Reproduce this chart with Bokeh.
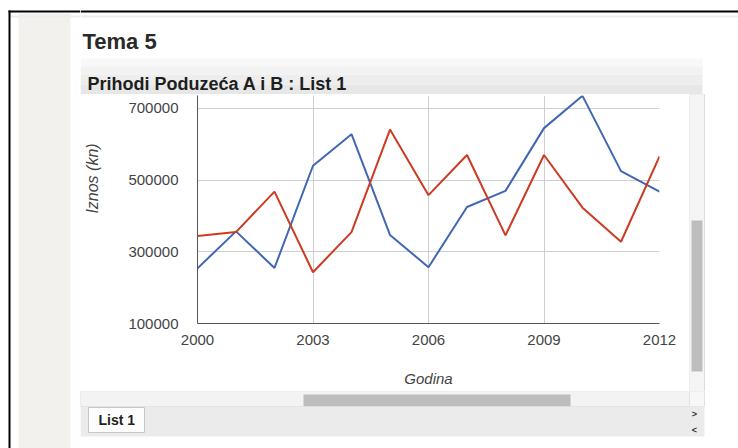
import math
from bokeh.plotting import figure
from bokeh.layouts import column, row
from bokeh.models import Range1d, FixedTicker, BasicTickFormatter
from bokeh.core.properties import value
from bokeh.embed import file_html
from bokeh.resources import INLINE

# ---- data ----
years = [2000, 2001, 2002, 2003, 2004, 2005, 2006, 2007, 2008, 2009, 2010, 2011, 2012]
series_blue = [254000, 357000, 255000, 540000, 628000, 347000, 257000, 425000, 470000, 645000, 735000, 525000, 468000]
series_red = [344000, 355000, 468000, 243000, 355000, 641000, 458000, 570000, 346000, 570000, 423000, 328000, 566000]
x_ticks = [2000, 2003, 2006, 2009, 2012]
y_ticks = [100000, 300000, 500000, 700000]
page_title = "Tema 5"
chart_title = "Prihodi Poduzeća A i B : List 1"
x_label = "Godina"
y_label = "Iznos (kn)"
sheet_tab = "List 1"

FONT = "Liberation Sans"


def tidy(f):
    try:
        f.frame_align = False
    except Exception:
        pass
    try:
        f.title = None
    except Exception:
        f.title.visible = False


def panel(x0, x1, y0, y1):
    """A decoration panel whose data units are page pixels (y measured downward, stored negated)."""
    f = figure(width=x1 - x0, height=y1 - y0, output_backend="svg", toolbar_location=None,
               x_range=Range1d(x0, x1), y_range=Range1d(-y1, -y0),
               x_axis_type=None, y_axis_type=None)
    f.min_border_left = 0
    f.min_border_right = 0
    f.min_border_top = 0
    f.min_border_bottom = 0
    f.outline_line_color = None
    f.background_fill_color = "white"
    f.border_fill_color = "white"
    f.grid.visible = False
    tidy(f)
    return f


def box(f, l, t, r, b, color, line=None):
    f.quad(left=l, right=r, top=-t, bottom=-b, fill_color=color,
           line_color=line if line else None, line_width=1)


def txt(f, x, y, s, size, style="normal", color="#222222", angle=0.0, align="left"):
    # y is the vertical middle of the capital letters
    f.text(x=[x], y=[-y], text=[s], text_font=value(FONT), text_font_size=value(size),
           text_font_style=style, text_color=color, angle=angle,
           text_align=align, text_baseline="middle")


# ---- full-height left strip: page x 0..80 ----
strip = panel(0, 80, 0, 448)
box(strip, 18, 13, 70, 448, "#f3f1ee")
box(strip, 10, 15, 80, 17, "#ededed")
box(strip, 8, 10, 80, 12, "#000000")
box(strip, 8, 10, 10, 448, "#000000")

# ---- top panel: page x 80..738, y 0..94 ----
top = panel(80, 738, 0, 94)
box(top, 80, 10, 738, 12, "#000000")
box(top, 80, 15, 738, 17, "#ededed")
box(top, 80, 58, 702, 66, "#f8f8f8")
box(top, 80, 66, 702, 74, "#f2f2f2")
box(top, 80, 74, 702, 84, "#ededed")
box(top, 80, 84, 702, 94, "#e7e7e7")
txt(top, 82, 40.5, page_title, "22px", "bold", "#2a2a2a")
txt(top, 87, 83, chart_title, "18px", "bold", "#1e1e1e")

# ---- y-label panel: page x 80..108, y 94..391 ----
ylab = panel(80, 108, 94, 391)
txt(ylab, 92, 178, y_label, "16px", "italic", "#444444", angle=math.pi / 2, align="center")

# ---- chart: page x 108..689, y 94..391 ----
p = figure(width=581, height=297, output_backend="svg", toolbar_location=None,
           x_range=Range1d(2000, 2012), y_range=Range1d(100000, 736000))
p.min_border_left = 89
p.min_border_right = 30
p.min_border_top = 1
p.min_border_bottom = 68
p.outline_line_color = None
p.background_fill_color = "white"
p.border_fill_color = "white"
tidy(p)

p.line(years, series_blue, line_color="#4267b2", line_width=2)
p.line(years, series_red, line_color="#cc3b22", line_width=2)

for ax in (p.xaxis[0], p.yaxis[0]):
    ax.major_tick_line_color = None
    ax.minor_tick_line_color = None
    ax.axis_line_color = "#555555"
    ax.major_label_text_font = FONT
    ax.major_label_text_font_size = "15px"
    ax.major_label_text_color = "#444444"
p.xaxis.ticker = FixedTicker(ticks=x_ticks)
p.yaxis.ticker = FixedTicker(ticks=y_ticks)
p.xaxis.formatter = BasicTickFormatter(use_scientific=False)
p.yaxis.formatter = BasicTickFormatter(use_scientific=False)
p.xaxis.major_label_standoff = 5
p.yaxis.major_label_standoff = 13
p.xaxis.axis_label = x_label
p.xaxis.axis_label_text_font = FONT
p.xaxis.axis_label_text_font_size = "15px"
p.xaxis.axis_label_text_font_style = "italic"
p.xaxis.axis_label_text_color = "#444444"
p.xaxis.axis_label_standoff = 22
p.xgrid.ticker = FixedTicker(ticks=x_ticks)
p.ygrid.ticker = FixedTicker(ticks=y_ticks)
p.xgrid.grid_line_color = "#cfcfcf"
p.ygrid.grid_line_color = "#cfcfcf"

# ---- right panel: page x 689..738, y 94..391 ----
right = panel(689, 738, 94, 391)
box(right, 689, 94, 704, 391, "#f5f5f5", "#dddddd")
box(right, 691, 220, 702, 371, "#bdbdbd")

# ---- bottom panel: page x 80..738, y 391..448 ----
bottom = panel(80, 738, 391, 448)
box(bottom, 80, 391, 689, 406, "#f3f3f3", "#dcdcdc")
box(bottom, 689, 391, 704, 406, "#f7f7f7", "#e2e2e2")
box(bottom, 303, 394, 570, 406, "#bdbdbd")
box(bottom, 80, 406, 704, 436, "#ebebeb")
box(bottom, 88, 407, 144, 432, "#fdfdfd", "#c6c6c6")
txt(bottom, 98, 419, sheet_tab, "14px", "bold", "#222222")
txt(bottom, 694, 413, ">", "9px", "bold", "#333333", align="center")
txt(bottom, 694, 429, "<", "9px", "bold", "#333333", align="center")

layout = row(strip, column(top, row(ylab, p, right), bottom))
open("out.html", "w").write(file_html(layout, INLINE))
